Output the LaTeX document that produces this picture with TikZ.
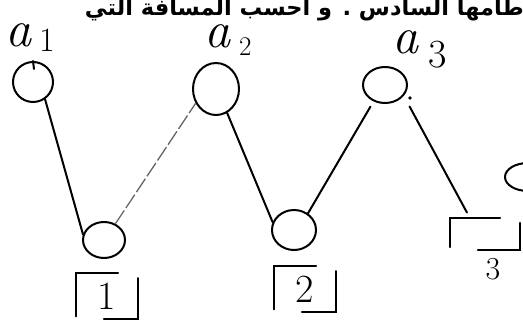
\documentclass[tikz,border=0pt]{standalone}
\usepackage{fontspec}
\usetikzlibrary{shapes, positioning, calc}
\newfontfamily\arabicfont[Script=Arabic]{DejaVu Sans}
\TeXXeTstate=1
\newcommand{\gapbox}[1]{%
  \draw[pen] ([yshift=3pt]#1.south west) -- (#1.north west) -- ([xshift=-20pt]#1.north east);
  \draw[pen] ([yshift=-5pt]#1.north east) -- (#1.south east) -- ([xshift=28pt]#1.south west);
}
\newcommand{\idxnum}[3]{\raisebox{#2}{\upshape\fontsize{#1}{#1}\selectfont #3}}

\begin{document}
\begin{tikzpicture}[
    x=1pt, y=-1pt,
    pen/.style={line width=2pt, line cap=round},
    faint/.style={line width=1.3pt, black!60, dash pattern=on 16pt off 3pt},
    ring/.style={ellipse, draw=black, line width=2pt, inner sep=0pt},
    cell/.style={rectangle, minimum width=62pt, minimum height=46pt, inner sep=0pt, font=\fontsize{40}{40}\selectfont},
    lab/.style={anchor=base west, inner sep=0pt, font=\itshape\fontsize{52}{52}\selectfont},
    idx/.style={inner sep=0pt, font=\fontsize{32}{32}\selectfont}
]
\useasboundingbox (0,0) rectangle (523,327);
\clip (0,0) rectangle (523,327);
% heading (cut off at the top)
\node (title) [anchor=base east, inner sep=0pt, text depth=3pt, font=\arabicfont\bfseries\fontsize{22.5}{22.5}\selectfont] at (524,15)
  {\beginR طامها السادس . و احسب المسافة التي\endR};
% circles
\node (top1) [ring, minimum width=40pt, minimum height=40pt] at (33,82) {};
\node (bot1) [ring, minimum width=42pt, minimum height=36pt] at (104,240) {};
\node (top2) [ring, minimum width=46pt, minimum height=52pt] at (216,89) {};
\node (bot2) [ring, minimum width=44pt, minimum height=40pt] at (294,230) {};
\node (top3) [ring, minimum width=44pt, minimum height=36pt] at (385,85) {};
\node (top4) [ring, minimum width=46pt, minimum height=28pt] at (528,177) {};
% labels
\node (lab1) [lab] at (5,46) {a\hspace{8pt}\idxnum{34}{-5pt}{1}};
\node (lab2) [lab] at (204,47) {a\hspace{9pt}\idxnum{27}{-8pt}{2}};
\node (lab3) [lab] at (392,53) {a\hspace{10pt}\idxnum{40}{-14pt}{3}};
% boxes
\node (cell1) [cell, below=14pt of bot1, xshift=3pt] {1};
\node (cell2) [cell, below=15pt of bot2, xshift=11pt] {2};
\node (cell3) [cell, minimum width=70pt, minimum height=32pt] at (485,234) {};
\node (num3) [idx, below=8pt of cell3, xshift=8pt] {3};
\gapbox{cell1}
\gapbox{cell2}
\gapbox{cell3}
% zigzag
\draw[pen] (top1.north) -- ++(1,8);
\draw[pen] (top1.-55) -- (bot1.165);
\draw[faint] (bot1.55) -- (top2.215);
\draw[pen] (top2.-65) -- (bot2.160);
\draw[pen, shorten >=6pt] (bot2.50) -- (top3.235);
\draw[pen, shorten <=12pt, shorten >=6pt] (top3.-30) -- ([xshift=20pt]cell3.north west);
\fill ([xshift=2pt, yshift=-13pt]top3.east) circle (1.8pt);
\end{tikzpicture}
\end{document}
